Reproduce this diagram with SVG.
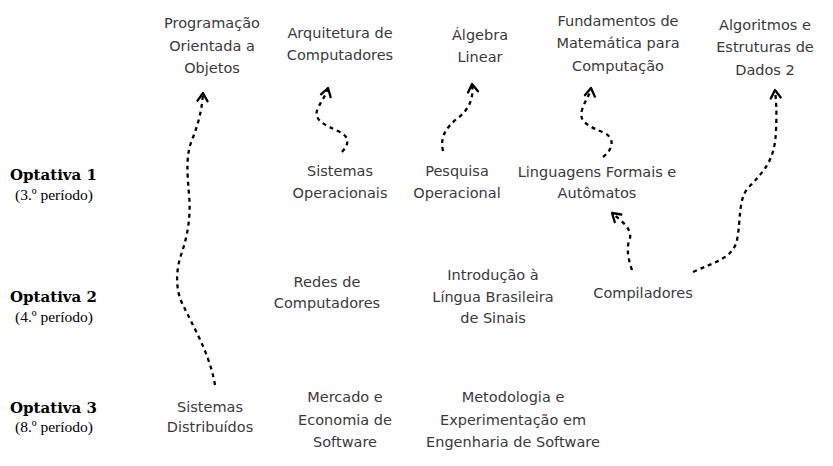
<svg xmlns="http://www.w3.org/2000/svg" width="833" height="466" viewBox="0 0 833 466">
<defs>
<style>
.n{font-family:"DejaVu Sans","Open Sans",sans-serif;font-size:14.5px;fill:#3a3a3a;text-anchor:middle}
.h{font-family:"DejaVu Serif","Liberation Serif",serif;font-weight:bold;font-size:15px;fill:#000}
.s{font-family:"Liberation Serif","DejaVu Serif",serif;font-size:15.5px;fill:#000}
.c{fill:none;stroke:#000;stroke-width:2.3;stroke-dasharray:4 4;marker-end:url(#ah)}
</style>
<marker id="ah" markerUnits="userSpaceOnUse" markerWidth="16" markerHeight="16" refX="0" refY="0" viewBox="-9 -8 12 16" orient="auto">
<path d="M-8,-5 L0,0 L-8,5" fill="none" stroke="#000" stroke-width="2.3" stroke-linecap="round" stroke-linejoin="round"/>
</marker>
</defs>
<rect width="833" height="466" fill="#fff"/>
<g id="labels">
<text class="h" x="10" y="180">Optativa 1</text>
<text class="s" x="15" y="200">(3.º período)</text>
<text class="h" x="10" y="302">Optativa 2</text>
<text class="s" x="15" y="322">(4.º período)</text>
<text class="h" x="10" y="413">Optativa 3</text>
<text class="s" x="15" y="432">(8.º período)</text>
</g>
<g id="poo"><text class="n" x="212" y="28">Programação</text><text class="n" x="212" y="51">Orientada a</text><text class="n" x="212" y="73">Objetos</text></g>
<g id="arq"><text class="n" x="340" y="38">Arquitetura de</text><text class="n" x="340" y="60">Computadores</text></g>
<g id="alg"><text class="n" x="480" y="40">Álgebra</text><text class="n" x="480" y="62">Linear</text></g>
<g id="fmc"><text class="n" x="618" y="26">Fundamentos de</text><text class="n" x="618" y="48">Matemática para</text><text class="n" x="618" y="71">Computação</text></g>
<g id="aed"><text class="n" x="765" y="30">Algoritmos e</text><text class="n" x="765" y="52">Estruturas de</text><text class="n" x="765" y="75">Dados 2</text></g>
<g id="so"><text class="n" x="340" y="176">Sistemas</text><text class="n" x="340" y="198">Operacionais</text></g>
<g id="po"><text class="n" x="457" y="176">Pesquisa</text><text class="n" x="457" y="198">Operacional</text></g>
<g id="lfa"><text class="n" x="597" y="177">Linguagens Formais e</text><text class="n" x="597" y="198">Autômatos</text></g>
<g id="rc"><text class="n" x="327" y="287">Redes de</text><text class="n" x="327" y="308">Computadores</text></g>
<g id="libras"><text class="n" x="493" y="280">Introdução à</text><text class="n" x="493" y="302">Língua Brasileira</text><text class="n" x="493" y="323">de Sinais</text></g>
<g id="comp"><text class="n" x="643" y="298">Compiladores</text></g>
<g id="sd"><text class="n" x="210" y="412">Sistemas</text><text class="n" x="210" y="432">Distribuídos</text></g>
<g id="mes"><text class="n" x="345" y="402">Mercado e</text><text class="n" x="345" y="425">Economia de</text><text class="n" x="345" y="447">Software</text></g>
<g id="mees"><text class="n" x="513" y="402">Metodologia e</text><text class="n" x="513" y="425">Experimentação em</text><text class="n" x="513" y="447">Engenharia de Software</text></g>
<g id="connectors">
<path class="c" d="M215,385 C210,355 195,330 183,305 C175,290 176,270 181,255 C188,235 191,215 189,195 C187,170 186,155 192,140 C198,125 202,110 203,93"/>
<path class="c" d="M342,152 C348,145 351,138 340,132 C325,125 312,120 318,108 C322,100 326,95 328,88"/>
<path class="c" d="M443,151 C440,138 445,128 458,118 C468,110 474,100 472,84"/>
<path class="c" d="M603,157 C612,150 616,140 605,133 C590,127 578,122 582,110 C585,100 590,95 591,88"/>
<path class="c" d="M632,270 C628,258 626,248 630,238 C632,228 620,220 612,213"/>
<path class="c" d="M693,272 C715,262 733,258 737,240 C741,220 738,200 748,188 C765,170 775,160 776,130 C777,110 776,100 775,90"/>
</g>
</svg>
